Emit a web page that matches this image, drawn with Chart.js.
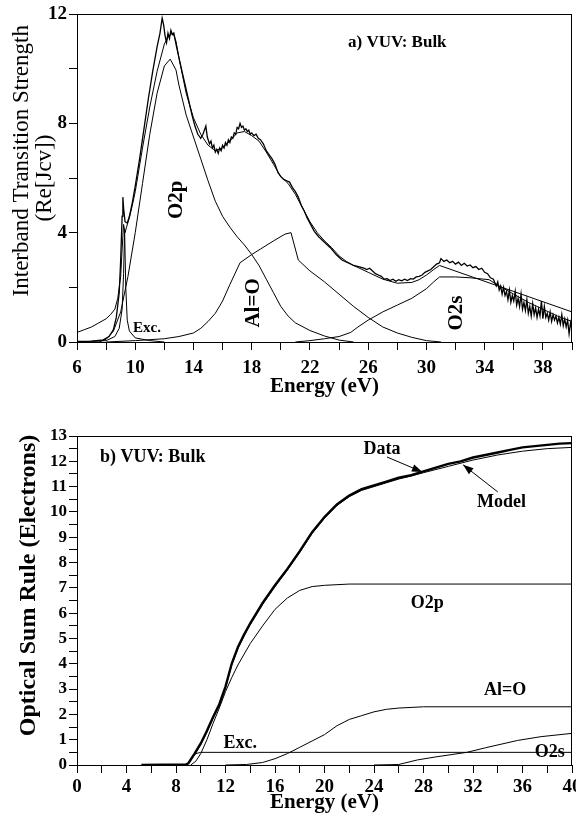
<!DOCTYPE html>
<html>
<head>
<meta charset="utf-8">
<script src="https://cdn.jsdelivr.net/npm/chart.js@4.4.1/dist/chart.umd.min.js"></script>
<style>
html, body { margin: 0; padding: 0; background: #fff; }
#wrap { width: 576px; height: 823px; position: relative; overflow: hidden; }
canvas { display: block; position: absolute; left: 0; }
#chart-a { top: 0; }
#chart-b { top: 400px; }
</style>
</head>
<body>
<div id="wrap">
  <canvas id="chart-a" width="576" height="400"></canvas>
  <canvas id="chart-b" width="576" height="423"></canvas>
</div>
<script>
// ---- panel a: interband transition strength, Re[Jcv] ----
const dataA_E = [6.0,7.0,7.8,8.2,8.5,8.7,8.9,9.0,9.1,9.15,9.2,9.3,9.45,9.6,9.8,10.0,10.3,10.6,10.9,11.2,11.5,11.7,11.85,11.95,12.05,12.15,12.25,12.35,12.45,12.55,12.65,12.8,13.0,13.3,13.6,13.9,14.1,14.3,14.5,14.65,14.85,14.95,15.1,15.2,15.3,15.4,15.5,15.6,15.7,15.8,15.9,16.0,16.1,16.2,16.3,16.4,16.5,16.6,16.7,16.8,16.9,17.0,17.1,17.2,17.3,17.4,17.5,17.6,17.7,17.8,17.9,18.0,18.15,18.3,18.45,18.6,18.8,19.0,19.2,19.4,19.6,19.8,20.0,20.2,20.4,20.6,20.8,21.0,21.2,21.4,21.6,21.8,22.0,22.3,22.6,23.0,23.4,23.8,24.2,24.6,25.0,25.4,25.7,25.9,26.1,26.3,26.5,26.7,26.9,27.1,27.3,27.5,27.7,27.9,28.1,28.3,28.5,28.7,28.9,29.1,29.3,29.5,29.7,29.9,30.1,30.3,30.5,30.7,30.9,31.0,31.2,31.4,31.6,31.8,32.0,32.2,32.4,32.6,32.8,33.0,33.2,33.4,33.6,33.8,34.0,34.2,34.4,34.6,34.8,34.9,35.0,35.1,35.2,35.3,35.4,35.5,35.6,35.7,35.8,35.9,36.0,36.1,36.2,36.3,36.4,36.5,36.6,36.7,36.8,36.9,37.0,37.1,37.2,37.3,37.4,37.5,37.6,37.7,37.8,37.9,38.0,38.1,38.2,38.3,38.4,38.5,38.6,38.7,38.8,38.9,39.0,39.1,39.2,39.3,39.4,39.5,39.6,39.7,39.8,39.9,40.0];
const dataA_V = [0.02,0.03,0.08,0.2,0.45,0.9,1.8,3.0,4.6,5.3,4.9,4.4,4.35,4.6,5.1,5.7,6.7,7.8,8.9,9.9,10.8,11.3,11.85,11.6,11.2,10.95,11.3,11.1,11.4,11.25,11.3,10.9,10.4,9.7,9.0,8.3,7.9,7.6,7.45,7.6,7.9,7.5,7.25,7.35,7.1,7.2,6.95,7.05,6.9,7.1,7.0,7.2,7.1,7.3,7.2,7.4,7.3,7.5,7.45,7.65,7.6,7.85,7.8,8.0,7.85,7.9,7.75,7.8,7.7,7.75,7.6,7.65,7.55,7.6,7.45,7.4,7.25,7.0,6.85,6.7,6.5,6.2,6.05,5.95,5.9,5.85,5.65,5.5,5.3,5.0,4.8,4.55,4.35,4.05,3.85,3.65,3.45,3.2,3.0,2.9,2.8,2.75,2.7,2.65,2.7,2.6,2.5,2.45,2.4,2.3,2.32,2.25,2.3,2.22,2.28,2.24,2.3,2.25,2.32,2.3,2.38,2.4,2.45,2.55,2.6,2.65,2.75,2.85,2.9,3.05,2.95,3.0,2.9,2.95,2.85,2.92,2.8,2.88,2.78,2.82,2.72,2.76,2.65,2.7,2.55,2.5,2.35,2.3,2.05,2.2,1.9,2.05,1.75,2.0,1.7,1.85,1.55,1.9,1.45,1.7,1.5,1.85,1.35,1.6,1.3,1.75,1.2,1.45,1.15,1.55,1.05,1.3,0.95,1.4,1.0,1.25,0.9,1.2,0.95,1.5,0.85,1.3,0.9,1.05,0.8,1.1,0.75,1.0,0.8,0.95,0.7,0.9,0.65,1.0,0.6,0.85,0.55,0.8,0.3,0.7,0.45];

const modelA_E = [6.0,6.5,7.0,7.5,8.0,8.3,8.6,8.8,9.0,9.1,9.2,9.3,9.4,9.6,9.8,10.0,10.5,11.0,11.5,12.0,12.3,12.6,12.8,13.0,13.5,14.0,14.5,15.0,15.5,16.0,16.5,17.0,17.5,18.0,18.5,19.0,19.5,20.0,20.5,21.0,21.5,22.0,22.5,23.0,23.5,24.0,24.5,25.0,26.0,27.0,28.0,29.0,29.5,30.0,30.5,30.9,40.0];
const modelA_V = [0.35,0.45,0.55,0.7,0.85,1.0,1.2,1.6,2.4,3.4,4.3,4.0,4.2,4.55,5.0,5.5,7.1,8.6,9.9,10.9,11.2,11.3,11.0,10.4,9.1,8.2,7.6,7.2,7.0,7.1,7.35,7.65,7.7,7.55,7.35,6.95,6.5,6.05,5.8,5.4,4.9,4.4,4.0,3.7,3.45,3.15,2.95,2.8,2.55,2.3,2.15,2.18,2.28,2.45,2.65,2.8,1.1];

const o2pA_E = [6.0,7.5,8.0,8.5,9.0,9.5,10.0,10.5,11.0,11.5,12.0,12.4,12.8,13.0,13.5,14.0,14.5,15.0,15.5,16.0,16.5,17.0,17.5,18.0,18.5,19.0,19.5,20.0,20.5,21.0,22.0,23.0,24.0,25.0];
const o2pA_V = [0.0,0.0,0.1,0.4,1.1,2.4,4.0,5.8,7.6,9.1,10.1,10.35,9.95,9.4,8.3,7.5,6.7,5.9,5.15,4.6,4.2,3.85,3.55,3.2,2.8,2.3,1.8,1.3,0.95,0.7,0.42,0.22,0.07,0.0];

const excA_E = [6.0,8.0,8.6,8.9,9.1,9.2,9.27,9.35,9.45,9.6,10.0,11.0,12.0];
const excA_V = [0.0,0.05,0.2,0.5,1.2,2.5,4.1,2.0,0.8,0.4,0.15,0.05,0.0];

const aloA_E = [8.0,10.0,12.0,13.0,14.0,14.5,15.0,15.5,16.0,16.5,17.2,18.0,18.6,19.5,20.3,20.7,21.2,22.0,23.0,24.0,25.0,26.0,27.0,28.0,29.0,30.0,31.0];
const aloA_V = [0.0,0.05,0.12,0.2,0.33,0.5,0.75,1.05,1.5,2.1,2.9,3.2,3.4,3.7,3.95,4.0,3.0,2.6,2.2,1.75,1.3,0.9,0.55,0.33,0.17,0.05,0.0];

const o2sA_E = [21.0,22.0,23.0,24.0,24.8,25.3,26.0,27.0,28.0,29.0,30.0,30.5,30.9,32.0,33.0,34.3,35.0,36.0,37.0,38.0,39.0,40.0];
const o2sA_V = [0.0,0.05,0.12,0.2,0.35,0.55,0.8,1.1,1.35,1.6,1.95,2.2,2.38,2.38,2.35,2.28,2.05,1.75,1.45,1.2,0.95,0.75];

// ---- panel b: optical sum rule (electrons) ----
const dataB_E = [5.2,8.8,9.0,9.5,10.0,10.5,11.0,11.5,12.0,12.5,13.0,13.5,14.0,15.0,16.0,17.0,18.0,19.0,20.0,21.0,22.0,23.0,24.0,25.0,26.0,27.0,28.0,29.0,30.0,31.0,32.0,33.0,34.0,35.0,36.0,37.0,38.0,39.0,40.0];
const dataB_V = [0.0,0.02,0.07,0.45,0.85,1.35,1.9,2.4,3.1,4.0,4.65,5.15,5.6,6.4,7.1,7.75,8.45,9.2,9.8,10.3,10.65,10.9,11.05,11.2,11.35,11.45,11.6,11.75,11.9,12.0,12.15,12.25,12.35,12.45,12.55,12.6,12.65,12.7,12.72];

const modelB_E = [8.8,9.0,9.5,10.0,10.5,11.0,11.5,12.0,12.5,13.0,13.5,14.0,15.0,16.0,17.0,18.0,19.0,20.0,21.0,22.0,23.0,24.0,25.0,26.0,27.0,28.0,30.0,32.0,34.0,36.0,38.0,40.0];
const modelB_V = [0.0,0.05,0.4,0.8,1.3,1.85,2.35,3.05,3.95,4.6,5.1,5.55,6.35,7.05,7.7,8.4,9.15,9.75,10.25,10.6,10.85,11.0,11.15,11.3,11.42,11.55,11.8,12.05,12.25,12.4,12.5,12.55];

const o2pB_E = [9.2,9.6,10.0,10.5,11.0,11.5,12.0,12.5,13.0,14.0,15.0,16.0,17.0,18.0,19.0,20.0,22.0,40.0];
const o2pB_V = [0.0,0.15,0.45,1.0,1.65,2.25,2.9,3.45,3.95,4.8,5.5,6.15,6.6,6.9,7.05,7.1,7.15,7.15];

const excB_E = [8.8,9.0,9.3,9.6,10.0,40.0];
const excB_V = [0.0,0.05,0.3,0.45,0.5,0.5];

const aloB_E = [12.0,13.7,15.0,16.0,17.0,18.0,19.0,20.0,21.0,22.0,23.0,24.0,25.0,26.0,28.0,40.0];
const aloB_V = [0.0,0.02,0.1,0.25,0.45,0.7,0.95,1.2,1.55,1.8,1.95,2.1,2.2,2.25,2.3,2.3];

const o2sB_E = [24.0,26.0,27.5,29.0,31.5,33.0,35.6,37.5,40.0];
const o2sB_V = [0.0,0.02,0.2,0.32,0.5,0.68,0.97,1.12,1.25];

const FONT = "'Liberation Serif', 'Times New Roman', serif";

function pts(es, vs) {
  return es.map((e, i) => ({ x: e, y: vs[i] }));
}

function line(es, vs, width) {
  return {
    data: pts(es, vs),
    showLine: true,
    borderColor: '#000',
    backgroundColor: '#000',
    borderWidth: width,
    pointRadius: 0,
    tension: 0
  };
}

// frame round the plot, text notes and arrows in data units
const notesPlugin = {
  id: 'notes',
  afterDraw(chart, args, opts) {
    const ctx = chart.ctx;
    const xs = chart.scales.x, ys = chart.scales.y;
    const a = chart.chartArea;
    ctx.save();
    ctx.strokeStyle = '#000';
    ctx.lineWidth = 1;
    ctx.strokeRect(a.left + 0.5, a.top + 0.5, a.right - a.left - 1, a.bottom - a.top);
    ctx.fillStyle = '#000';
    for (const n of (opts.texts || [])) {
      ctx.save();
      ctx.translate(xs.getPixelForValue(n.x), ys.getPixelForValue(n.y));
      if (n.rot) ctx.rotate(n.rot * Math.PI / 180);
      ctx.font = n.font;
      ctx.textAlign = n.align || 'center';
      ctx.textBaseline = 'middle';
      ctx.fillText(n.text, 0, 0);
      ctx.restore();
    }
    for (const ar of (opts.arrows || [])) {
      const x0 = xs.getPixelForValue(ar.from[0]), y0 = ys.getPixelForValue(ar.from[1]);
      const x1 = xs.getPixelForValue(ar.to[0]), y1 = ys.getPixelForValue(ar.to[1]);
      const ang = Math.atan2(y1 - y0, x1 - x0);
      ctx.beginPath();
      ctx.moveTo(x0, y0);
      ctx.lineTo(x1, y1);
      ctx.stroke();
      ctx.beginPath();
      ctx.moveTo(x1, y1);
      ctx.lineTo(x1 - 11 * Math.cos(ang - 0.35), y1 - 11 * Math.sin(ang - 0.35));
      ctx.lineTo(x1 - 11 * Math.cos(ang + 0.35), y1 - 11 * Math.sin(ang + 0.35));
      ctx.closePath();
      ctx.fill();
    }
    ctx.restore();
  }
};

function axis(min, max, step, labelEvery, labelFrom, fontSize, tickPad, title, size) {
  return {
    type: 'linear',
    min, max,
    afterBuildTicks: (s) => {
      const t = [];
      for (let v = min; v <= max + 1e-9; v += step) t.push({ value: +v.toFixed(3) });
      s.ticks = t;
    },
    ticks: {
      autoSkip: false,
      maxRotation: 0,
      color: '#000',
      padding: tickPad,
      font: { family: FONT, size: fontSize, weight: 'bold' },
      callback: (v) => (Math.abs(((v - labelFrom) / labelEvery) - Math.round((v - labelFrom) / labelEvery)) < 1e-6 ? String(v) : '')
    },
    grid: { drawOnChartArea: false, drawTicks: true, tickLength: 8, color: '#000', tickColor: '#000', lineWidth: 1 },
    border: { display: true, color: '#000', width: 1 },
    title: title,
    afterFit: (s) => {
      if (s.isHorizontal()) s.height = size; else s.width = size;
      s.paddingLeft = 0; s.paddingRight = 0; s.paddingTop = 0; s.paddingBottom = 0;
    }
  };
}

Chart.register(notesPlugin);

function baseOptions(padTop, padBottom, xScale, yScale, notes) {
  return {
    responsive: false,
    animation: false,
    layout: { padding: { top: padTop, right: 4, left: 0, bottom: padBottom } },
    plugins: { legend: { display: false }, tooltip: { enabled: false }, notes },
    scales: { x: xScale, y: yScale }
  };
}

// panel a
new Chart(document.getElementById('chart-a').getContext('2d'), {
  type: 'scatter',
  data: {
    datasets: [
      line(dataA_E, dataA_V, 1.3),
      line(modelA_E, modelA_V, 1),
      line(o2pA_E, o2pA_V, 1),
      line(excA_E, excA_V, 1),
      line(aloA_E, aloA_V, 1),
      line(o2sA_E, o2sA_V, 1)
    ]
  },
  options: baseOptions(14, 0,
    axis(6, 40, 2, 4, 6, 19, 7, { display: true, text: 'Energy (eV)', color: '#000', padding: { top: 0, bottom: 1 }, font: { family: FONT, size: 21, weight: 'bold' } }, 58),
    axis(0, 12, 2, 4, 0, 19, 2, { display: true, text: ['      Interband Transition Strength', '(Re[Jcv])'], color: '#000', padding: { top: 10, bottom: 0 }, font: { family: FONT, size: 23, weight: 'normal', lineHeight: 1.0 } }, 77),
    {
      texts: [
        { text: 'a) VUV: Bulk', x: 28.0, y: 10.94, font: 'bold 17px ' + FONT },
        { text: 'O2p', x: 12.87, y: 5.2, rot: -90, font: 'bold 21px ' + FONT },
        { text: 'Al=O', x: 18.1, y: 1.43, rot: -90, font: 'bold 21px ' + FONT },
        { text: 'O2s', x: 32.1, y: 1.06, rot: -90, font: 'bold 21px ' + FONT },
        { text: 'Exc.', x: 9.85, y: 0.51, align: 'left', font: 'bold 15px ' + FONT }
      ]
    })
});

// panel b
new Chart(document.getElementById('chart-b').getContext('2d'), {
  type: 'scatter',
  data: {
    datasets: [
      line(dataB_E, dataB_V, 2.4),
      line(modelB_E, modelB_V, 1),
      line(o2pB_E, o2pB_V, 1),
      line(excB_E, excB_V, 1),
      line(aloB_E, aloB_V, 1),
      line(o2sB_E, o2sB_V, 1)
    ]
  },
  options: baseOptions(36, 8,
    axis(0, 40, 2, 4, 0, 19, 3, { display: true, text: 'Energy (eV)', color: '#000', padding: { top: 0, bottom: 0 }, font: { family: FONT, size: 21, weight: 'bold' } }, 50),
    axis(0, 13, 0.5, 1, 0, 17, 2, { display: true, text: '     Optical Sum Rule (Electrons)', color: '#000', padding: { top: 14, bottom: 0 }, font: { family: FONT, size: 24, weight: 'bold' } }, 77),
    {
      texts: [
        { text: 'b) VUV: Bulk', x: 1.86, y: 12.17, align: 'left', font: 'bold 18px ' + FONT },
        { text: 'Data', x: 24.65, y: 12.49, font: 'bold 18px ' + FONT },
        { text: 'Model', x: 34.3, y: 10.36, font: 'bold 18px ' + FONT },
        { text: 'O2p', x: 28.3, y: 6.4, font: 'bold 18px ' + FONT },
        { text: 'Al=O', x: 34.6, y: 2.96, font: 'bold 18px ' + FONT },
        { text: 'O2s', x: 38.2, y: 0.51, font: 'bold 18px ' + FONT },
        { text: 'Exc.', x: 13.2, y: 0.87, font: 'bold 18px ' + FONT }
      ],
      arrows: [
        { from: [25.05, 12.17], to: [27.9, 11.58] },
        { from: [34.0, 10.79], to: [31.2, 11.86] }
      ]
    })
});
</script>
</body>
</html>
